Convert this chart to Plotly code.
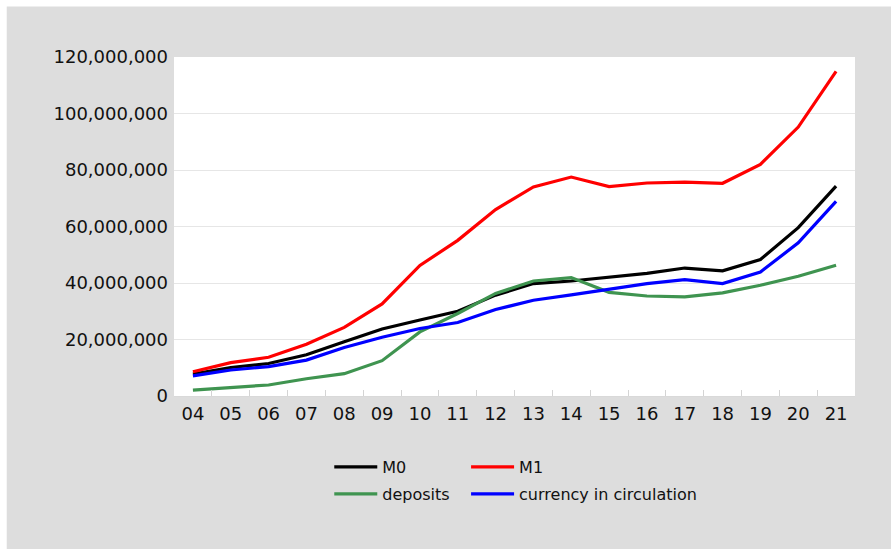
import plotly.graph_objects as go

# Year labels (two-digit)
years = ["04", "05", "06", "07", "08", "09", "10", "11", "12",
         "13", "14", "15", "16", "17", "18", "19", "20", "21"]

# Money supply aggregates
m0 = [7.8e6, 10.1e6, 11.5e6, 14.6e6, 19.2e6, 23.7e6, 26.9e6, 30.0e6, 35.7e6,
      39.8e6, 40.7e6, 42.1e6, 43.4e6, 45.3e6, 44.3e6, 48.3e6, 59.6e6, 74.3e6]
m1 = [8.6e6, 11.8e6, 13.7e6, 18.3e6, 24.3e6, 32.6e6, 46.2e6, 55.1e6, 66.0e6,
      74.0e6, 77.5e6, 74.1e6, 75.4e6, 75.7e6, 75.3e6, 82.0e6, 95.2e6, 114.9e6]
deposits = [2.1e6, 3.1e6, 3.9e6, 6.1e6, 7.9e6, 12.5e6, 22.7e6, 29.2e6, 36.3e6,
            40.7e6, 41.9e6, 36.7e6, 35.4e6, 35.1e6, 36.5e6, 39.2e6, 42.4e6, 46.3e6]
currency = [7.1e6, 9.2e6, 10.4e6, 12.7e6, 17.2e6, 20.8e6, 23.9e6, 26.0e6, 30.6e6,
            33.9e6, 35.8e6, 37.9e6, 39.8e6, 41.2e6, 39.8e6, 43.9e6, 54.2e6, 68.9e6]

y_ticks = [0, 20e6, 40e6, 60e6, 80e6, 100e6, 120e6]

FONT = "DejaVu Sans"

W, H = 891, 549
L, R, T, B = 173.5, 35.5, 56.6, 153.0
pw, ph = W - L - R, H - T - B


def px_x(p):
    return (p - L) / pw


def px_y(p):
    return (H - B - p) / ph


# name, values, colour, legend id, legend position (px)
series = [
    ("M0", m0, "#000000", "legend", (329, 467)),
    ("M1", m1, "#ff0000", "legend2", (466, 467)),
    ("deposits", deposits, "#3f9450", "legend3", (329, 494)),
    ("currency in circulation", currency, "#0000ff", "legend4", (466, 494)),
]

fig = go.Figure()
legends = {}
for name, vals, color, leg, (lx, ly) in series:
    fig.add_trace(go.Scatter(
        x=years, y=vals, name=name, mode="lines",
        line=dict(color=color, width=3.2),
        legend=leg, showlegend=True,
    ))
    legends[leg] = dict(
        x=px_x(lx), y=px_y(ly), xanchor="left", yanchor="middle",
        orientation="h", itemwidth=43,
        font=dict(family=FONT, size=16, color="#111111"),
        bgcolor="rgba(0,0,0,0)",
    )

fig.update_layout(
    width=W, height=H,
    showlegend=True,
    margin=dict(l=L, r=R, t=T, b=B, pad=0),
    paper_bgcolor="#dddddd",
    plot_bgcolor="#ffffff",
    font=dict(family=FONT, size=18, color="#111111"),
    # thin white border strips along the top and left edges
    shapes=[
        dict(type="rect", xref="paper", yref="paper", layer="below",
             x0=px_x(-5), x1=px_x(W + 5), y0=px_y(6), y1=px_y(-5),
             fillcolor="#ffffff", line=dict(width=0)),
        dict(type="rect", xref="paper", yref="paper", layer="below",
             x0=px_x(-5), x1=px_x(6), y0=px_y(H + 5), y1=px_y(-5),
             fillcolor="#ffffff", line=dict(width=0)),
    ],
    **legends,
)

fig.update_xaxes(
    type="category", tickson="boundaries", ticks="inside", ticklen=6,
    tickcolor="#d4d4d4", tickwidth=1,
    showline=True, linecolor="#d9d9d9", linewidth=1,
    showgrid=False, tickfont=dict(family=FONT, size=18, color="#111111"),
    range=[-0.5, len(years) - 0.5], ticklabelstandoff=1,
)
fig.update_yaxes(
    range=[0, 120e6], tickvals=y_ticks, tickformat=",d",
    showgrid=True, gridcolor="#e6e6e6", gridwidth=1,
    zeroline=False, showline=False, ticks="",
    tickfont=dict(family=FONT, size=18, color="#111111"),
    ticklabelstandoff=5,
)

fig.write_html("out.html")
